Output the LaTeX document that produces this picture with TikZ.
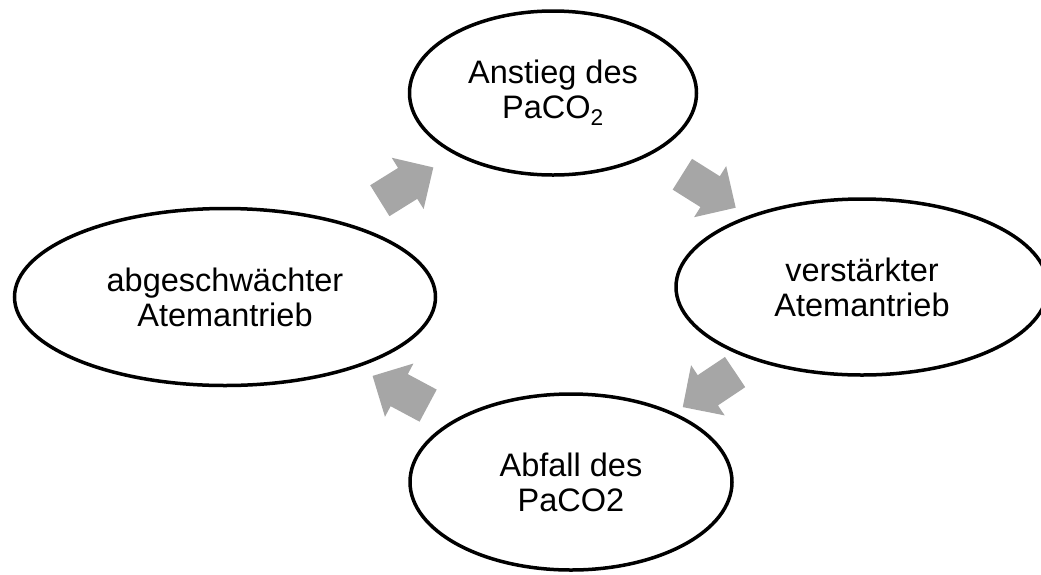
\documentclass[tikz,border=0pt]{standalone}
\usepackage{fontspec}
\setmainfont{Liberation Sans}
\usetikzlibrary{shapes.geometric}
\usetikzlibrary{shapes.arrows}
\definecolor{arrowgray}{HTML}{A6A6A6}

\begin{document}
\begin{tikzpicture}[x=1pt,y=-1pt
            ,state/.style={ellipse,draw,line width=3.5pt,align=center,inner sep=0pt
                           ,font=\fontsize{32.5}{35}\selectfont}
            ,cyclearrow/.style={single arrow,fill=arrowgray,draw=none,inner xsep=0pt,inner ysep=18pt
                                ,minimum height=63pt,single arrow head extend=12pt
                                ,sloped,allow upside down}
            ]
  \useasboundingbox (0,0) rectangle (1041,574);
  \node[state,minimum width=287pt,minimum height=164pt] (anstieg) at (553,93) {Anstieg des\\PaCO\textsubscript{2}};
  \node[state,minimum width=372pt,minimum height=176pt] (verstaerkt) at (862,287) {verstärkter\\Atemantrieb};
  \node[state,minimum width=322pt,minimum height=176pt] (abfall) at (571,482) {Abfall des\\PaCO2};
  \node[state,minimum width=421pt,minimum height=177pt] (abgeschwaecht) at (225,297) {abgeschwächter\\Atemantrieb};
  \path (anstieg.center) -- node[cyclearrow,pos=0.48] {} (verstaerkt.center);
  \path (verstaerkt.center) -- node[cyclearrow] {} (abfall.center);
  \path (abfall.center) -- node[cyclearrow,pos=0.47] {} (abgeschwaecht.center);
  \path (abgeschwaecht.center) -- node[cyclearrow,pos=0.53] {} (anstieg.center);
\end{tikzpicture}
\end{document}
